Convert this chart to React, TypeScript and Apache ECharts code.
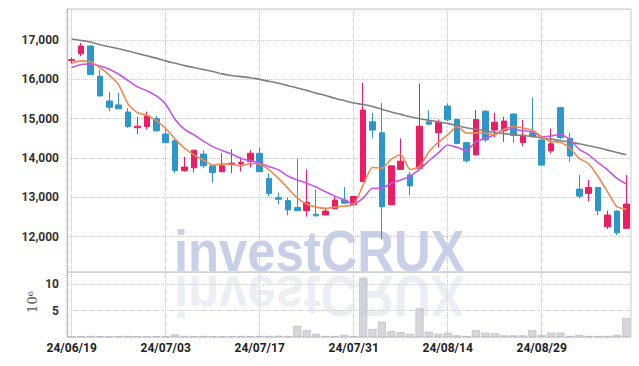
import React, { useEffect, useRef } from "react";
import * as echarts from "echarts";

const dates = [
  "24/06/19","24/06/20","24/06/21","24/06/24","24/06/25","24/06/26","24/06/27","24/06/28","24/07/01","24/07/02",
  "24/07/03","24/07/04","24/07/05","24/07/08","24/07/09","24/07/10","24/07/11","24/07/12","24/07/15","24/07/16",
  "24/07/17","24/07/18","24/07/19","24/07/22","24/07/23","24/07/24","24/07/25","24/07/26","24/07/29","24/07/30",
  "24/07/31","24/08/01","24/08/02","24/08/05","24/08/06","24/08/07","24/08/08","24/08/09","24/08/12","24/08/13",
  "24/08/14","24/08/16","24/08/19","24/08/20","24/08/21","24/08/22","24/08/23","24/08/26","24/08/27","24/08/28",
  "24/08/29","24/08/30","24/09/02","24/09/03","24/09/04","24/09/05","24/09/06","24/09/09","24/09/10","24/09/11",
];

const opens = [
  16480,16650,16850,16080,15450,15350,15170,14770,14800,15000,
  14610,14440,13680,13750,14100,13800,13650,13830,13850,13910,
  14120,13480,12990,12920,12740,12660,12570,12550,12710,12930,
  12810,13400,14920,14640,12810,13710,13570,13740,14920,14640,
  15320,14980,14390,14080,15190,14710,14690,15120,14390,14640,
  14460,14180,15280,14500,13210,13100,13250,12250,12650,12210,
];
const closes = [
  16500,16850,16120,15580,15290,15250,14800,14810,15070,14690,
  14390,13680,13770,14200,13800,13630,13800,13870,13890,14120,
  13650,13100,12950,12680,12660,12870,12530,12650,12930,12850,
  13020,15220,14710,12760,13800,13920,13290,14810,14860,14900,
  14970,14370,13930,14980,14460,14910,14940,14580,14580,14540,
  13820,14360,14520,14050,13030,13250,12660,12550,12100,12830,
];
const lows = [
  16400,16590,16110,15560,15190,15250,14770,14610,14730,14670,
  14390,13610,13650,13630,13750,13370,13640,13610,13660,13760,
  13650,13020,12820,12540,12660,12510,12510,12550,12700,12850,
  12780,13400,14500,11930,12810,13710,13060,13740,14840,14270,
  14940,14350,13880,14060,14410,14530,14410,14390,14300,14520,
  13810,14120,14480,13900,12970,12890,12550,12190,12040,12210,
];
const highs = [
  16560,16930,16870,16240,15680,15660,15270,15040,15180,15070,
  14770,14460,14030,14200,14200,13800,14120,14220,14030,14200,
  14270,13610,13120,13000,13990,13710,13200,12720,13030,13260,
  13020,15910,15150,15400,13800,14500,13650,15900,15220,14980,
  15390,15000,14400,15220,15220,15150,15050,15130,14970,15540,
  14480,14750,15300,14640,13570,13440,13260,12660,12670,13570,
];

const ma5 = [
  16410,16470,16450,16300,16110,15860,15370,15150,15090,14950,
  14750,14480,14250,14080,13950,13820,13850,13840,13800,13860,
  13840,13700,13480,13230,12980,12830,12750,12720,12750,12780,
  12810,13310,13760,13740,13970,14090,13710,13780,14160,14400,
  14590,14800,14630,14640,14630,14590,14730,14800,14760,14710,
  14540,14420,14400,14250,13990,13850,13530,13140,12760,12700,
];
const ma20 = [
  16300,16380,16390,16340,16260,16130,15970,15810,15710,15580,
  15370,14980,14730,14590,14430,14290,14190,14100,13990,13930,
  13870,13780,13700,13540,13440,13360,13260,13140,13030,12930,
  12830,12980,13230,13230,13360,13440,13540,13710,13930,14130,
  14330,14270,14190,14420,14500,14590,14730,14730,14690,14670,
  14540,14560,14610,14460,14220,14080,13880,13700,13480,13340,
];
const ma120 = [
  17025,16990,16950,16880,16830,16780,16720,16660,16600,16540,
  16470,16410,16350,16300,16250,16200,16140,16100,16070,16040,
  16000,15950,15900,15840,15780,15720,15650,15590,15520,15460,
  15400,15360,15310,15240,15170,15110,15050,15000,14960,14920,
  14880,14820,14770,14730,14690,14650,14620,14590,14570,14550,
  14510,14480,14440,14410,14360,14310,14260,14200,14140,14080,
];

// volume in millions
const volumes = [
  0.1,0.15,0.2,0.15,0.1,0.15,0.2,0.15,0.1,0.15,
  0.2,0.5,0.2,0.15,0.2,0.15,0.1,0.15,0.2,0.15,
  0.2,0.2,0.25,0.2,2.1,1.3,0.6,0.2,0.2,0.4,
  0.2,11.1,1.5,2.9,1.1,0.9,0.6,5.4,1.0,0.6,
  0.8,0.3,0.2,1.3,0.8,0.7,0.3,0.3,0.3,1.3,
  0.4,0.8,0.8,0.2,0.4,0.2,0.2,0.2,0.4,3.6,
];

const UP = "#e91e63";
const DOWN = "#2e96c8";
const GRID_LINE = "#c6cade";
const LABEL_FONT = "Roboto";
const WM_FONT = 'bold 58px "Liberation Sans"';

export default function App() {
  const ref = useRef<HTMLDivElement>(null);
  useEffect(() => {
    document.body.style.margin = "0";
    if (!ref.current) return;
    const chart = echarts.init(ref.current, undefined, { renderer: "svg" });
    const candles = dates.map((_, i) => [opens[i], closes[i], lows[i], highs[i]]);
    const splitX = {
      show: true,
      interval: 9,
      alignWithLabel: true,
      lineStyle: { type: "dotted", color: GRID_LINE, width: 1 },
    } as any;
    const option: any = {
      animation: false,
      backgroundColor: "#ffffff",
      grid: [
        { left: 67, right: 8, top: 9, height: 263, show: true, borderColor: "#cccccc", borderWidth: 1, backgroundColor: "transparent" },
        { left: 67, right: 8, top: 272, height: 65, show: true, borderColor: "#cccccc", borderWidth: 1, backgroundColor: "transparent" },
      ],
      graphic: [
        {
          type: "group",
          x: 174,
          y: 222,
          scaleX: 0.875,
          z: -10,
          silent: true,
          children: [
            {
              type: "text",
              x: 0,
              y: 0,
              style: { text: "investCRUX", font: WM_FONT, fill: "#c9cfe6" },
            },
          ],
        },
        {
          type: "group",
          x: 174,
          y: 325,
          scaleX: 0.875,
          scaleY: -1,
          z: -10,
          silent: true,
          children: [
            {
              type: "text",
              x: 0,
              y: 0,
              style: { text: "investCRUX", font: WM_FONT, fill: "rgba(205,210,228,0.4)" },
            },
          ],
        },
        {
          type: "text",
          x: 32,
          y: 302,
          rotation: Math.PI / 2,
          style: {
            text: "10⁶",
            font: '13px "DejaVu Serif"',
            fill: "#555555",
            align: "center",
            verticalAlign: "middle",
          },
        },
      ],
      xAxis: [
        {
          type: "category",
          gridIndex: 0,
          data: dates,
          boundaryGap: true,
          axisLine: { show: false },
          axisTick: { show: false },
          axisLabel: { show: false },
          splitLine: splitX,
        },
        {
          type: "category",
          gridIndex: 1,
          data: dates,
          boundaryGap: true,
          axisLine: { show: false },
          axisTick: { show: false },
          axisLabel: {
            interval: 9,
            margin: 5,
            color: "#222222",
            fontFamily: LABEL_FONT,
            fontWeight: "bold",
            fontSize: 12,
          },
          splitLine: splitX,
        },
      ],
      yAxis: [
        {
          type: "value",
          gridIndex: 0,
          min: 11100,
          max: 17790,
          axisLine: { show: true, lineStyle: { color: "#bbbbbb" } },
          axisTick: { show: false },
          axisLabel: {
            margin: 8,
            showMinLabel: false,
            showMaxLabel: false,
            color: "#333333",
            fontFamily: LABEL_FONT,
            fontWeight: "bold",
            fontSize: 12,
            formatter: (v: number) => v.toLocaleString("en-US"),
          },
          splitLine: { show: true, lineStyle: { type: "dotted", color: GRID_LINE } },
        },
        {
          type: "value",
          gridIndex: 1,
          min: 0,
          max: 12.3,
          interval: 5,
          axisLine: { show: true, lineStyle: { color: "#bbbbbb" } },
          axisTick: { show: false },
          axisLabel: {
            margin: 8,
            showMinLabel: false,
            showMaxLabel: false,
            color: "#333333",
            fontFamily: LABEL_FONT,
            fontWeight: "bold",
            fontSize: 12,
          },
          splitLine: { show: true, lineStyle: { type: "dotted", color: GRID_LINE } },
        },
      ],
      series: [
        {
          type: "candlestick",
          xAxisIndex: 0,
          yAxisIndex: 0,
          data: candles,
          barWidth: 6,
          itemStyle: {
            color: UP,
            color0: DOWN,
            borderColor: UP,
            borderColor0: DOWN,
            borderWidth: 1,
          },
          z: 3,
        },
        {
          type: "line",
          xAxisIndex: 0,
          yAxisIndex: 0,
          data: ma120,
          showSymbol: false,
          smooth: 0.2,
          lineStyle: { color: "#808080", width: 1.6 },
          z: 4,
        },
        {
          type: "line",
          xAxisIndex: 0,
          yAxisIndex: 0,
          data: ma20,
          showSymbol: false,
          smooth: 0.2,
          lineStyle: { color: "#c655ea", width: 1.6 },
          z: 4,
        },
        {
          type: "line",
          xAxisIndex: 0,
          yAxisIndex: 0,
          data: ma5,
          showSymbol: false,
          smooth: 0.2,
          lineStyle: { color: "#f08850", width: 1.6 },
          z: 5,
        },
        {
          type: "bar",
          xAxisIndex: 1,
          yAxisIndex: 1,
          data: volumes,
          barWidth: 8,
          itemStyle: { color: "rgba(200,200,208,0.75)", borderColor: "#b4b4bc", borderWidth: 0.6 },
        },
      ],
    };
    chart.setOption(option);
    return () => chart.dispose();
  }, []);
  return <div ref={ref} style={{ width: 639, height: 366 }} />;
}
